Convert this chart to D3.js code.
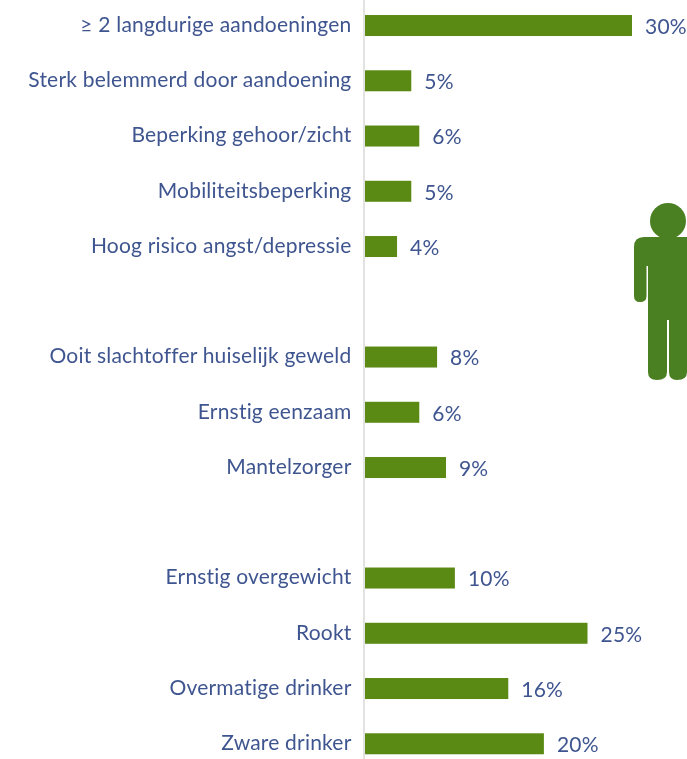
<!DOCTYPE html>
<html><head><meta charset="utf-8">
<script src="https://cdn.jsdelivr.net/npm/d3@7"></script>
<style>html,body{margin:0;padding:0;background:#fff;overflow:hidden}svg{display:block;filter:blur(0.45px)}text{font-family:Lato,sans-serif;}</style>
</head><body><svg id="c" width="687" height="759"></svg>
<script>
const categories=["≥ 2 langdurige aandoeningen","Sterk belemmerd door aandoening","Beperking gehoor/zicht","Mobiliteitsbeperking","Hoog risico angst/depressie","","Ooit slachtoffer huiselijk geweld","Ernstig eenzaam","Mantelzorger","","Ernstig overgewicht","Rookt","Overmatige drinker","Zware drinker"];
const values=[30,5.2,6.1,5.2,3.6,null,8.1,6.1,9.1,null,10.1,25,16.1,20.1];
const valueLabels=["30%","5%","6%","5%","4%","","8%","6%","9%","","10%","25%","16%","20%"];
const svg=d3.select("#c");
const keys=categories.map((d,i)=>i);
const y=d3.scaleBand().domain(keys).range([-2.1,771.4]).paddingInner(0.62).paddingOuter(0.31);
const x=d3.scaleLinear().domain([0,30]).range([365,632]);
svg.append("line").attr("x1",x(0)-1).attr("x2",x(0)-1).attr("y1",0).attr("y2",759).attr("stroke","#e2e2e2").attr("stroke-width",2);
const rows=keys.filter(i=>values[i]!==null);
svg.selectAll("rect.b").data(rows).join("rect").attr("class","b").attr("x",x(0)).attr("y",i=>y(i)).attr("width",i=>x(values[i])-x(0)).attr("height",y.bandwidth()).attr("fill","#5b8a14");
svg.selectAll("text.c").data(rows).join("text").attr("class","c").attr("x",351.5).attr("y",i=>y(i)+y.bandwidth()/2-1).attr("dy","0.35em").attr("text-anchor","end").attr("font-size",21).attr("letter-spacing",0.2).attr("fill","#3f5590").text(i=>categories[i]);
svg.selectAll("text.v").data(rows).join("text").attr("class","v").attr("x",i=>x(values[i])+13).attr("y",i=>y(i)+y.bandwidth()/2+1).attr("dy","0.35em").attr("font-size",21).attr("letter-spacing",0.2).attr("fill","#3f5590").text(i=>valueLabels[i]);
// person pictogram
const g=svg.append("g").attr("fill","#4a7f22");
g.append("circle").attr("cx",668).attr("cy",221).attr("r",18);
g.append("path").attr("d","M644 237H687V372Q687 380 677 380Q669 380 669 372V320H667V372Q667 380 657 380Q648 380 648 372V266H646.5V296Q646.5 302 640 302Q634 302 634 296V247Q634 237 644 237Z");
</script></body></html>
